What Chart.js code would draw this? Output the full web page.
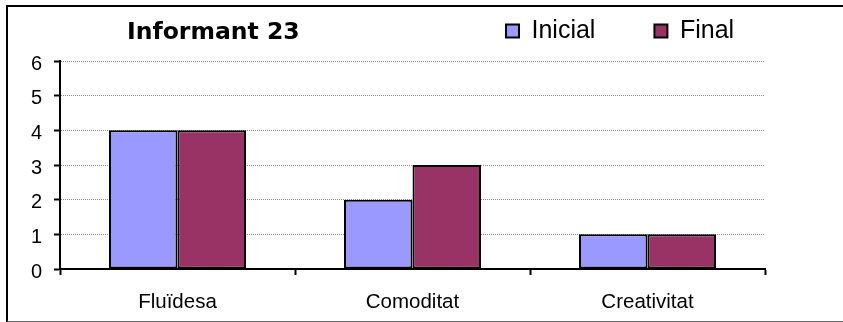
<!DOCTYPE html>
<html>
<head>
<meta charset="utf-8">
<script src="https://cdn.jsdelivr.net/npm/chart.js@4/dist/chart.umd.min.js"></script>
<style>
  html, body { margin: 0; padding: 0; background: #ffffff; }
  #wrap { width: 843px; height: 322px; position: relative; }
  canvas { display: block; }
</style>
</head>
<body>
<div id="wrap"><canvas id="chart" width="843" height="322"></canvas></div>
<script>
// Chart content
const chartTitle = 'Informant 23';
const categories = ['Fluïdesa', 'Comoditat', 'Creativitat'];
const seriesNames = ['Inicial', 'Final'];
const inicialValues = [4, 2, 1];
const finalValues = [4, 3, 1];
const yTickValues = [0, 1, 2, 3, 4, 5, 6];

const FONT = '"Liberation Sans", Arial, sans-serif';
const TITLE_FONT = 'bold 23.5px "DejaVu Sans", sans-serif';

// White background plus the outer frame of the chart
const framePlugin = {
  id: 'frame',
  beforeDraw(chart) {
    const ctx = chart.ctx;
    ctx.save();
    ctx.fillStyle = '#ffffff';
    ctx.fillRect(0, 0, chart.width, chart.height);
    ctx.strokeStyle = '#000000';
    ctx.lineWidth = 2;
    ctx.beginPath();
    ctx.moveTo(7, chart.height);
    ctx.lineTo(7, 6);
    ctx.lineTo(chart.width, 6);
    ctx.stroke();
    ctx.strokeStyle = '#666666';
    ctx.lineWidth = 1;
    ctx.beginPath();
    ctx.moveTo(7, chart.height - 0.5);
    ctx.lineTo(chart.width, chart.height - 0.5);
    ctx.stroke();
    ctx.restore();
  }
};

// Bold title sitting on the same row as the legend, to its left
const titlePlugin = {
  id: 'sideTitle',
  afterDraw(chart) {
    const ctx = chart.ctx;
    ctx.save();
    ctx.font = TITLE_FONT;
    ctx.fillStyle = '#000000';
    ctx.textAlign = 'left';
    ctx.textBaseline = 'alphabetic';
    ctx.fillText(chartTitle, 127, 39);
    ctx.restore();
  }
};

// Move the legend up into the title row, leaving the plot area below untouched
const LEGEND_X = 506;
const LEGEND_Y = 18.5;
const legendRowPlugin = {
  id: 'legendRow',
  afterLayout(chart) {
    const lg = chart.legend;
    if (!lg) return;
    const gap = lg.options.labels.padding;
    lg.left = LEGEND_X - gap;
    lg.right = chart.width;
    lg.top = LEGEND_Y - gap;
    lg.bottom = LEGEND_Y + 40;
    lg.width = lg.right - lg.left;
    lg.height = lg.bottom - lg.top;
  }
};

new Chart(document.getElementById('chart'), {
  type: 'bar',
  data: {
    labels: categories,
    datasets: [
      {
        label: seriesNames[0],
        data: inicialValues,
        backgroundColor: '#9999FF',
        borderColor: '#000000',
        borderWidth: 2,
        borderSkipped: false,
        categoryPercentage: 0.583,
        barPercentage: 1.0
      },
      {
        label: seriesNames[1],
        data: finalValues,
        backgroundColor: '#993366',
        borderColor: '#000000',
        borderWidth: 2,
        borderSkipped: false,
        categoryPercentage: 0.583,
        barPercentage: 1.0
      }
    ]
  },
  options: {
    responsive: false,
    animation: false,
    devicePixelRatio: 1,
    layout: { padding: { top: 60, left: 0, right: 78, bottom: 0 } },
    plugins: {
      title: { display: false },
      tooltip: { enabled: false },
      legend: {
        display: true,
        position: 'top',
        align: 'start',
        maxHeight: 1,
        labels: {
          font: { family: FONT, size: 25 },
          color: '#000000',
          boxWidth: 13,
          boxHeight: 13,
          padding: 59
        }
      }
    },
    scales: {
      x: {
        grid: {
          offset: true,
          drawOnChartArea: false,
          drawTicks: true,
          tickLength: 6,
          tickColor: '#000000',
          tickWidth: 2
        },
        border: { display: true, color: '#000000', width: 2 },
        ticks: {
          font: { family: FONT, size: 20.5 },
          color: '#000000',
          padding: 15,
          maxRotation: 0
        },
        afterFit(scale) { scale.height = 53; }
      },
      y: {
        min: 0,
        max: 6,
        afterBuildTicks(scale) {
          scale.ticks = yTickValues.map(v => ({ value: v }));
        },
        grid: {
          color: '#8c8c8c',
          lineWidth: 1,
          drawTicks: true,
          tickLength: 6,
          tickColor: '#000000',
          tickWidth: 2
        },
        border: { display: true, color: '#000000', width: 2, dash: [1, 1] },
        ticks: {
          font: { family: FONT, size: 20 },
          color: '#000000',
          padding: 12,
          labelOffset: 3
        },
        afterFit(scale) { scale.width = 60; }
      }
    }
  },
  plugins: [framePlugin, legendRowPlugin, titlePlugin]
});
</script>
</body>
</html>
